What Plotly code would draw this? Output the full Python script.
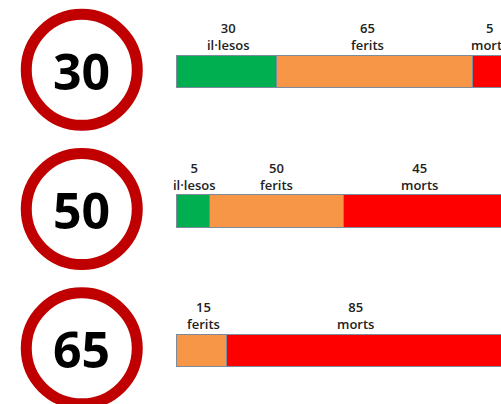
import plotly.graph_objects as go

# Speed sign per row
speeds = ["30", "50", "65"]
rows = [0, 1, 2]

# Printed labels
green_labels = ["30<br>il·lesos", "5<br>il·lesos", None]
orange_labels = ["65<br>ferits", "50<br>ferits", "15<br>ferits"]
red_labels = ["5<br>morts", "45<br>morts", "85<br>morts"]

# Segment lengths as drawn in the picture (the source's bars are not
# strictly proportional to the printed numbers, and run off the right edge)
green_len = [30, 10, 0]
orange_len = [59, 40, 15]
red_len = [11, 47.5, 84]

GREEN, ORANGE, RED, RING = "#00B050", "#F79646", "#FF0000", "#C00000"
OUTLINE = "#7C8C9C"
UNIT = 3.33      # px per unit of bar length
X0 = 177         # px of bar start
ROW = 139.25     # px between rows
Y0 = 72.3        # px centre of first bar
SIGN_Y_SHIFT = -2.5

W, H = 501, 404
fig = go.Figure()

for name, lens, col in [("il·lesos", green_len, GREEN), ("ferits", orange_len, ORANGE), ("morts", red_len, RED)]:
    fig.add_trace(go.Bar(y=rows, x=lens, orientation="h", name=name, width=0.232,
                         marker=dict(color=col, line=dict(color=OUTLINE, width=1)),
                         hoverinfo="skip"))

sign_x = -28.6
fig.add_trace(go.Scatter(x=[sign_x] * 3, y=rows, yaxis="y2", mode="markers",
                         marker=dict(size=111, color="white", line=dict(color=RING, width=11)),
                         cliponaxis=False, hoverinfo="skip"))
for r, s in zip(rows, speeds):
    fig.add_annotation(x=sign_x, y=r, yref="y2", text=s, showarrow=False, yshift=-1,
                       font=dict(family="Open Sans", size=50, color="#000000", weight=700),
                       xanchor="center", yanchor="middle")

# Labels: centred on their segment, nudged to where the picture has them
nudges = {(0, 0): 2, (0, 1): -8, (0, 2): -2, (1, 0): 1, (1, 1): 0, (1, 2): -3, (2, 1): 2, (2, 2): -11}
for r in rows:
    start = 0
    for s, (lens, labels) in enumerate([(green_len, green_labels), (orange_len, orange_labels), (red_len, red_labels)]):
        if labels[r]:
            fig.add_annotation(x=start + lens[r] / 2, y=r, yshift=35.5, yanchor="middle",
                               text=labels[r], showarrow=False, xshift=nudges.get((r, s), 0),
                               font=dict(family="Open Sans", size=13, color="#222222", weight=600),
                               align="center", xanchor="center")
        start += lens[r]

y_top = -Y0 / ROW
y_bot = (H - Y0) / ROW
fig.update_layout(
    width=W, height=H, barmode="stack", showlegend=False, bargap=0,
    margin=dict(l=0, r=0, t=0, b=0), paper_bgcolor="white", plot_bgcolor="white",
    xaxis=dict(range=[-X0 / UNIT, (W - X0) / UNIT], visible=False, domain=[0, 1]),
    yaxis=dict(range=[y_bot, y_top], visible=False, domain=[0, 1]),
    yaxis2=dict(range=[y_bot + SIGN_Y_SHIFT / -ROW, y_top + SIGN_Y_SHIFT / -ROW], visible=False,
                overlaying="y", domain=[0, 1]),
)
fig.write_html("out.html", config={"displayModeBar": False},
               post_script="document.body.style.margin='0';document.body.style.overflow='hidden';")
